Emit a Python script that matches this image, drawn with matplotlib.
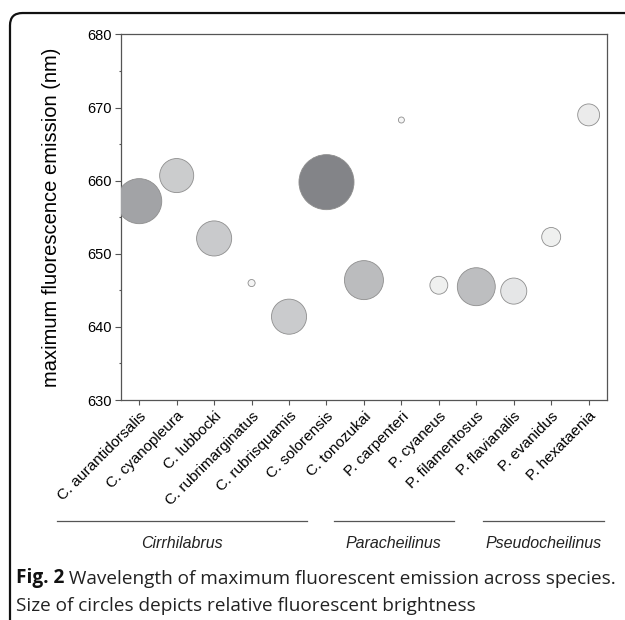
import numpy as np
import matplotlib.pyplot as plt
from matplotlib.patches import FancyBboxPatch
from matplotlib.lines import Line2D

species = ['C. aurantidorsalis', 'C. cyanopleura', 'C. lubbocki', 'C. rubrimarginatus',
           'C. rubrisquamis', 'C. solorensis', 'C. tonozukai', 'P. carpenteri',
           'P. cyaneus', 'P. filamentosus', 'P. flavianalis', 'P. evanidus', 'P. hexataenia']
emission = [657.2, 660.7, 652.1, 646.0, 641.4, 659.8, 646.4, 668.3,
            645.7, 645.5, 644.9, 652.3, 669.0]
# relative brightness (circle area)
brightness = [20.3, 11.6, 12.3, 0.5, 12.3, 30.3, 15.2, 0.36,
              3.2, 14.4, 6.8, 3.6, 4.8]
fills = ['#a2a3a6', '#cbcccd', '#c9cacc', '#f4f4f4', '#cacbcd', '#838488', '#bbbcbe',
         '#f6f6f6', '#eff0ef', '#bdbec0', '#e5e6e7', '#eff0ef', '#ebebeb']
genera = ['Cirrhilabrus', 'Paracheilinus', 'Pseudocheilinus']

plt.rcParams['font.family'] = ['Liberation Sans', 'DejaVu Sans']

fig = plt.figure(figsize=(6.25, 6.2), dpi=100)
ax = fig.add_axes([0.1928, 0.3548, 0.779, 0.5896])

x = np.arange(len(species))
sizes = np.array(brightness) * 100 * 0.72**2
ax.scatter(x, emission, s=sizes, c=fills, edgecolors='#8e8e8e', linewidths=0.6, zorder=3)

ax.set_xlim(-0.5, len(species) - 0.5)
ax.set_ylim(630, 680)
ax.set_yticks(np.arange(630, 681, 10))
ax.set_yticks(np.arange(635, 680, 10), minor=True)
ax.set_xticks(x)
ax.set_xticklabels(species, rotation=45, ha='right', rotation_mode='anchor', fontsize=11)
ax.tick_params(axis='y', labelsize=10.5, length=4, width=0.8, color='#555555', pad=2)
ax.tick_params(axis='y', which='minor', length=1.5, width=0.8, color='#555555')
ax.tick_params(axis='x', length=3.5, width=0.8, color='#555555', pad=3)
for sp in ax.spines.values():
    sp.set_color('#555555')
    sp.set_linewidth(0.9)
ax.set_ylabel('maximum fluorescence emission (nm)', fontsize=14.5, labelpad=19)

# genus brackets below the species labels
spans = [(0.091, 0.491), (0.534, 0.726), (0.773, 0.966)]
for name, (x0, x1) in zip(genera, spans):
    fig.add_artist(Line2D([x0, x1], [0.160, 0.160], color='#555555', lw=0.9))
    fig.text((x0 + x1) / 2, 0.124, name, ha='center', va='center',
             fontsize=11.5, style='italic', color='#222222')

# panel frame
fig.add_artist(FancyBboxPatch((0.016, -0.2), 1.3, 1.179, boxstyle='round,pad=0,rounding_size=0.02',
                              transform=fig.transFigure, fill=False, ec='#111111', lw=1.6))

cap = ['Open Sans', 'DejaVu Sans']
t1 = fig.text(0.0256, 0.0597, 'Fig. 2', fontsize=13.7, weight='bold', family=cap, color='#111111')
ax.annotate(' Wavelength of maximum fluorescent emission across species.', xy=(1, 0),
            xycoords=t1, va='bottom', fontsize=13.7, family=cap, color='#222222',
            annotation_clip=False)
fig.text(0.0256, 0.0145, 'Size of circles depicts relative fluorescent brightness',
         fontsize=13.7, family=cap, color='#222222')

fig.savefig('out.png', dpi=100)
